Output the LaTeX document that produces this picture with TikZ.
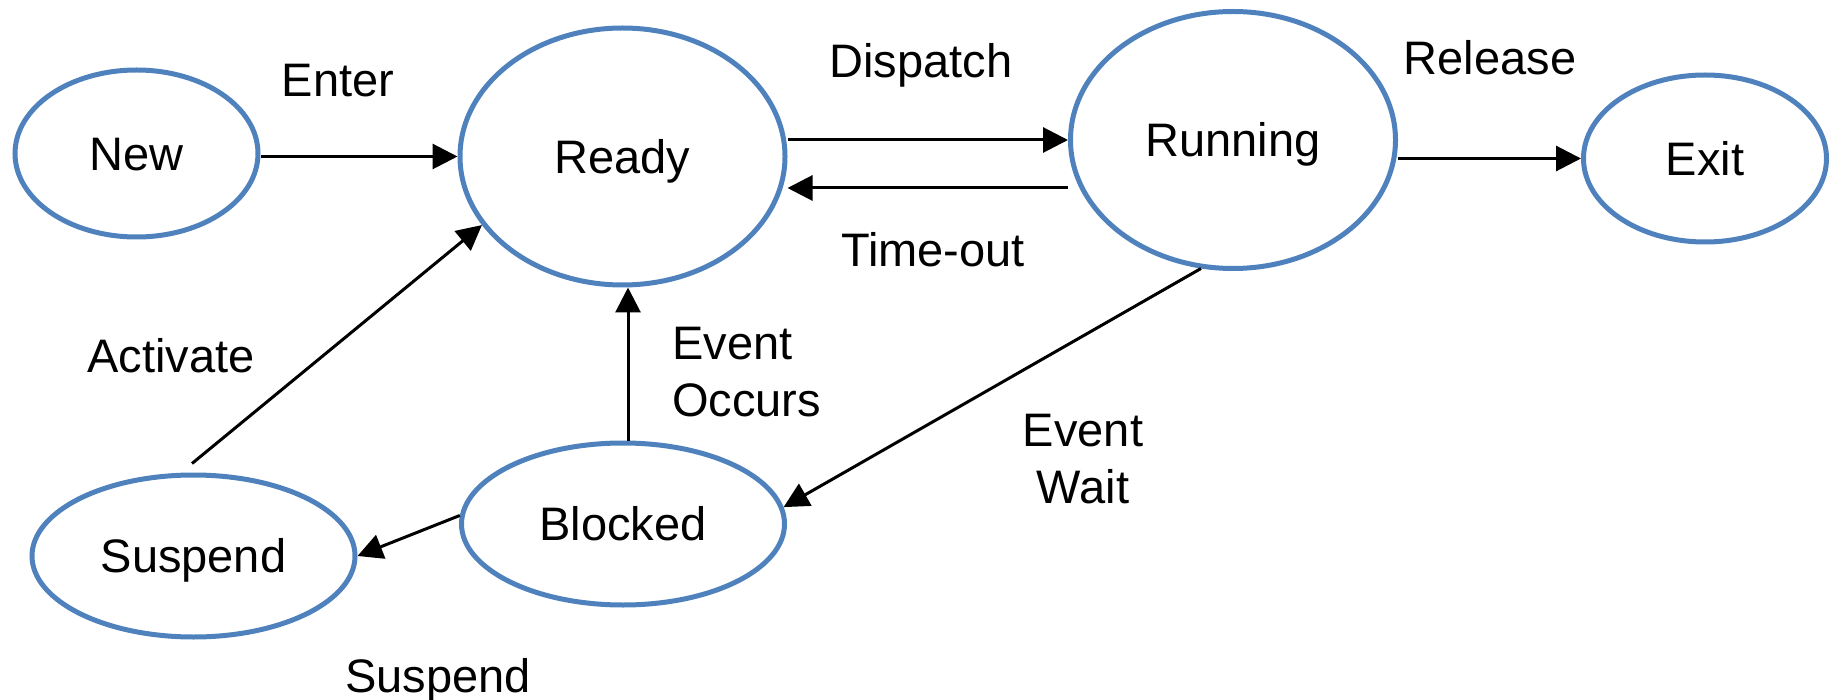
\documentclass[tikz,border=0pt]{standalone}
\usepackage{fontspec}
\setmainfont{Liberation Sans}
\usetikzlibrary{shapes.geometric,arrows.meta,calc}
\definecolor{stateblue}{HTML}{4F81BD}
\begin{document}
\begin{tikzpicture}[x=1pt,y=-1pt,
  font=\fontsize{47}{57}\selectfont,
  state/.style={ellipse, draw=stateblue, line width=5pt, inner sep=0pt,
                text height=33.7pt, text depth=0pt},
  bigstate/.style={state, minimum width=325pt, minimum height=257pt},
  smallstate/.style={state, minimum width=243pt, minimum height=167pt},
  flatstate/.style={state, minimum width=323pt, minimum height=162pt},
  arr/.style={line width=3pt, -{Triangle[length=25pt,width=25pt]}},
  lbl/.style={inner sep=0pt, anchor=base},
  lblblock/.style={inner sep=0pt}
]
\path[use as bounding box] (0,0) rectangle (1833,700);

% process states
\node[bigstate]   (Ready)   at (622.5,156.5) {Ready};
\node[bigstate]   (Running) at (1233,140)    {Running};
\node[smallstate] (New)     at (136.5,153.5) {New};
\node[smallstate] (Exit)    at (1705,158.5)  {Exit};
\node[flatstate]  (Suspend) at (193.5,556)   {Suspend};
\node[flatstate]  (Blocked) at (623,524)     {Blocked};

% transition labels
\node[lbl] (lEnter)    at (338,97)   {Enter};
\node[lbl] (lDispatch) at (921,78)   {Dispatch};
\node[lbl] (lRelease)  at (1490,75)  {Release};
\node[lbl] (lTimeout)  at (933,267)  {Time-out};
\node[lbl] (lActivate) at (171,372)  {Activate};
\node[lbl] (lSuspend)  at (438,692)  {Suspend};
\node[lblblock, align=left, anchor=west] (lOccurs) at (672,372) {Event\\Occurs};
\node[lblblock, align=center] (lWait) at (1083,459) {Event\\Wait};

% transitions
\draw[arr] (Ready.west -| New.east) -- (Ready.west);
\draw[arr] (Running.west -| Ready.east) -- (Running.west);
\draw[arr] ($(Running.west)+(0,48)$) -- ($(Ready.east)+(0,31.5)$);
\draw[arr] (Exit.west -| Running.east) -- (Exit.west);
\coordinate (actFrom) at ($(Suspend.north)+(-1.5,-9)$);
\draw[arr] (actFrom) -- (Ready.206);
\draw[arr] ($(Blocked.north)+(5,0)$) -- ($(Ready.south)+(5.5,0)$);
\draw[arr] (Running.256) -- (Blocked.6);
\draw[arr] (Blocked.177) -- (Suspend.east);
\end{tikzpicture}
\end{document}
